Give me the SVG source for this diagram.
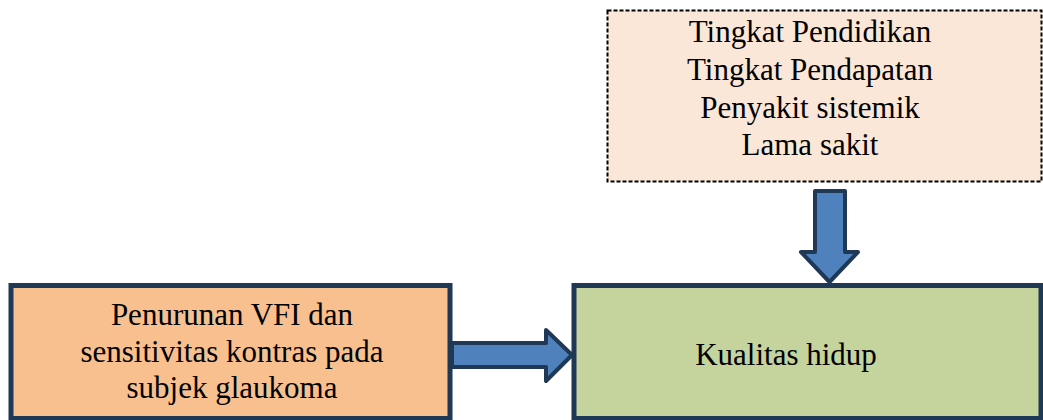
<svg xmlns="http://www.w3.org/2000/svg" width="1043" height="420" viewBox="0 0 1043 420">
<style>
  .box { stroke: #1F3856; stroke-width: 5; }
  .txt { font-family: "Liberation Serif", "Times New Roman", serif; font-size: 31px; fill: #000; text-anchor: middle; }
  .arrow { fill: #4F81BD; stroke: #1F3856; stroke-width: 4; stroke-linejoin: round; }
</style>
<rect width="1043" height="420" fill="#FFFFFF"/>
<g id="factors">
  <rect x="607.5" y="10.5" width="434" height="171" fill="#FBE7D7" stroke="#000" stroke-width="2" stroke-dasharray="4,2"/>
  <text class="txt" x="810" y="42">Tingkat Pendidikan</text>
  <text class="txt" x="810" y="80">Tingkat Pendapatan</text>
  <text class="txt" x="810" y="118">Penyakit sistemik</text>
  <text class="txt" x="810" y="155">Lama sakit</text>
</g>
<g id="penurunan">
  <rect class="box" x="11" y="285.5" width="439" height="133" fill="#F8C08F"/>
  <text class="txt" x="232" y="325">Penurunan VFI dan</text>
  <text class="txt" x="232" y="362">sensitivitas kontras pada</text>
  <text class="txt" x="232" y="398">subjek glaukoma</text>
</g>
<g id="kualitas">
  <rect class="box" x="574" y="285.5" width="467" height="133" fill="#C4D49C"/>
  <text class="txt" x="786" y="365">Kualitas hidup</text>
</g>
<g id="connectors">
  <path class="arrow" d="M452,343 L546,343 L546,330 L572,355 L546,381 L546,367 L452,367 Z"/>
  <path class="arrow" d="M815,191 L845,191 L845,252 L858,252 L829.5,282 L801,252 L815,252 Z"/>
</g>
</svg>
